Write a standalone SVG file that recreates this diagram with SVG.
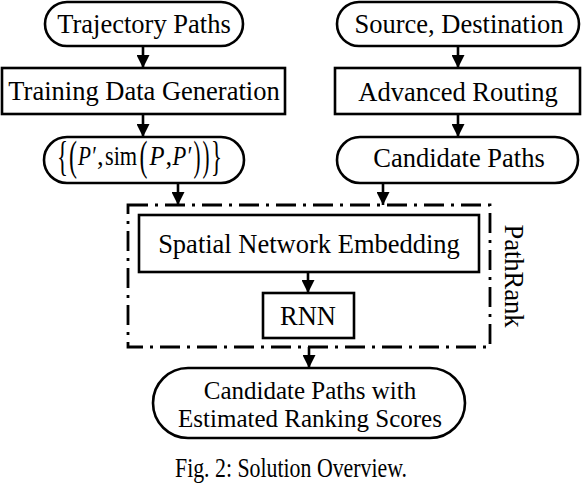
<svg xmlns="http://www.w3.org/2000/svg" width="582" height="486" viewBox="0 0 582 486">
<style>
.box{fill:#fff;stroke:#000;stroke-width:2.6}
.t{font-family:"Liberation Serif","Times New Roman",serif;font-size:26.5px;fill:#000}
.m{text-anchor:middle}
.it{font-style:italic}
.d{font-size:42px}
.r2{font-size:25px}
.cap{font-family:"Liberation Serif","Times New Roman",serif;font-size:27.5px;fill:#000}
.c{stroke:#000;stroke-width:2.6;fill:none}
.dash{fill:none;stroke:#000;stroke-width:2.8;stroke-dasharray:20 7 3 7}
</style>
<defs>
<marker id="ah" markerUnits="userSpaceOnUse" markerWidth="13" markerHeight="13" refX="13" refY="6.5" orient="auto">
<path d="M0,0 L13,6.5 L0,13 z" fill="#000"/>
</marker>
</defs>
<g id="connectors">
<line class="c" x1="143" y1="46" x2="143" y2="68" marker-end="url(#ah)"/>
<line class="c" x1="143" y1="114" x2="143" y2="137" marker-end="url(#ah)"/>
<line class="c" x1="178" y1="183" x2="178" y2="205" marker-end="url(#ah)"/>
<line class="c" x1="458" y1="46" x2="458" y2="68" marker-end="url(#ah)"/>
<line class="c" x1="458" y1="114" x2="458" y2="137" marker-end="url(#ah)"/>
<line class="c" x1="383" y1="183" x2="383" y2="205" marker-end="url(#ah)"/>
<line class="c" x1="308" y1="272" x2="308" y2="293" marker-end="url(#ah)"/>
<line class="c" x1="309" y1="347" x2="309" y2="368" marker-end="url(#ah)"/>
</g>
<g id="pathrank">
<rect class="dash" x="128" y="205" width="362" height="142"/>
<text class="t m" transform="translate(505,276) rotate(90)" x="0" y="0">PathRank</text>
</g>
<g id="trajectory">
<rect class="box" x="45" y="2" width="198" height="44" rx="22"/>
<text class="t m" x="144" y="33">Trajectory Paths</text>
</g>
<g id="training">
<rect class="box" x="2" y="68" width="283" height="46"/>
<text class="t m" x="144" y="100">Training Data Generation</text>
</g>
<g id="set">
<rect class="box" x="44" y="137" width="200" height="46" rx="23"/>
<text class="t d" transform="translate(57,170) scale(0.545,1)">{</text>
<text class="t d" transform="translate(69,170) scale(0.57,1)">(</text>
<text class="t it" transform="translate(78,165) scale(0.8,1)">P′</text>
<text class="t" x="97" y="165">,</text>
<text class="t" transform="translate(105,165) scale(0.84,1)">sim</text>
<text class="t d" transform="translate(139.5,170) scale(0.57,1)">(</text>
<text class="t it" transform="translate(149.5,165) scale(0.93,1)">P</text>
<text class="t" x="165.5" y="165">,</text>
<text class="t it" transform="translate(172.5,165) scale(0.85,1)">P′</text>
<text class="t d" transform="translate(193.5,170) scale(0.5,1)">)</text>
<text class="t d" transform="translate(202.5,170) scale(0.5,1)">)</text>
<text class="t d" transform="translate(211,170) scale(0.545,1)">}</text>
</g>
<g id="source">
<rect class="box" x="337" y="2" width="242" height="44" rx="22"/>
<text class="t m" x="459" y="33">Source, Destination</text>
</g>
<g id="routing">
<rect class="box" x="335" y="68" width="245" height="46"/>
<text class="t m" x="458" y="101">Advanced Routing</text>
</g>
<g id="candidate">
<rect class="box" x="337" y="137" width="241" height="46" rx="23"/>
<text class="t m" x="459" y="167">Candidate Paths</text>
</g>
<g id="embedding">
<rect class="box" x="139" y="215" width="340" height="57"/>
<text class="t m" x="309" y="253">Spatial Network Embedding</text>
</g>
<g id="rnn">
<rect class="box" x="263" y="293" width="91" height="45"/>
<text class="t m" x="308" y="325">RNN</text>
</g>
<g id="result">
<rect class="box" x="153" y="368" width="312" height="70" rx="35"/>
<text class="t m r2" x="310" y="399">Candidate Paths with</text>
<text class="t m r2" x="310" y="427">Estimated Ranking Scores</text>
</g>
<text class="cap" x="175" y="477" textLength="232" lengthAdjust="spacingAndGlyphs">Fig. 2: Solution Overview.</text>
</svg>
